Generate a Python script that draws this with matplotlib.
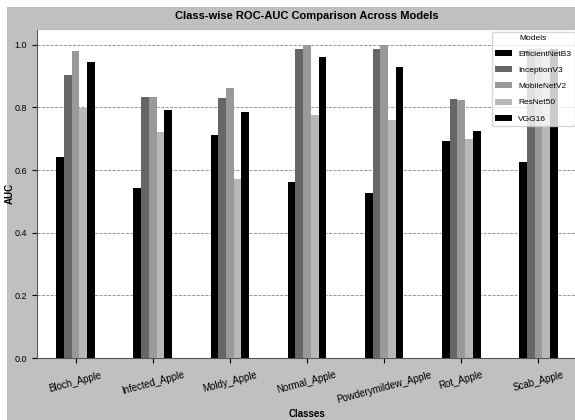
import matplotlib

matplotlib.use("Agg")
import matplotlib.pyplot as plt
import numpy as np
from matplotlib.patches import Rectangle

classes = ["Bloch_Apple", "Infected_Apple", "Moldy_Apple", "Normal_Apple",
           "Powderymildew_Apple", "Rot_Apple", "Scab_Apple"]
models = ["EfficientNetB3", "InceptionV3", "MobileNetV2", "ResNet50", "VGG16"]

efficientnet = [0.642, 0.542, 0.711, 0.563, 0.528, 0.692, 0.624]
inception = [0.903, 0.833, 0.829, 0.985, 0.985, 0.828, 0.985]
mobilenet = [0.981, 0.833, 0.862, 1.000, 1.000, 0.823, 0.990]
resnet = [0.799, 0.721, 0.571, 0.775, 0.761, 0.700, 0.975]
vgg = [0.945, 0.793, 0.786, 0.960, 0.930, 0.726, 0.985]

series = [efficientnet, inception, mobilenet, resnet, vgg]
colors = ["#000000", "#666666", "#999999", "#b8b8b8", "#000000"]

plt.rcParams["font.family"] = ["Liberation Sans", "DejaVu Sans"]

fig = plt.figure(figsize=(5.75, 4.2), dpi=100, facecolor="white")
fig.patches.append(Rectangle((7 / 575, 0), 1, 1 - 7 / 420, transform=fig.transFigure,
                             facecolor="#c0c0c0", edgecolor="none", zorder=-10))
ax = fig.add_axes([37 / 575, 62 / 420, 540 / 575, 329 / 420])
ax.set_facecolor("white")

x = np.arange(len(classes))
width = 0.1
for i, (name, vals) in enumerate(zip(models, series)):
    ax.bar(x + (i - 2) * width, vals, width, label=name, color=colors[i], zorder=3)

ax.set_xlim(-0.5, len(classes) - 0.5)
ax.set_ylim(0, 1.05)
ax.set_yticks([0.0, 0.2, 0.4, 0.6, 0.8, 1.0])
ax.set_xticks(x)
ax.set_xticklabels(classes, rotation=15, ha="center", fontsize=7)
ax.tick_params(axis="y", labelsize=6.5)
ax.tick_params(axis="x", pad=5)
ax.grid(True, axis="y", linestyle="--", color="#888888", linewidth=0.6, zorder=0)
for s in ["top", "right"]:
    ax.spines[s].set_color("#bbbbbb")
ax.spines["left"].set_color("#555555")
ax.spines["bottom"].set_color("#555555")

ax.set_title("Class-wise ROC-AUC Comparison Across Models", fontsize=8, fontweight="bold", pad=7)
ax.set_xlabel("Classes", fontsize=7, fontweight="bold")
ax.set_ylabel("AUC", fontsize=7, fontweight="bold")
ax.xaxis.set_label_coords(0.5, -0.155)
ax.yaxis.set_label_coords(-0.041, 0.5)
leg = ax.legend(title="Models", loc="upper right", fontsize=6, title_fontsize=6,
                framealpha=0.8, labelspacing=1.0, handlelength=2.0, borderaxespad=0.3)

fig.savefig("out.png", dpi=100, facecolor=fig.get_facecolor())
